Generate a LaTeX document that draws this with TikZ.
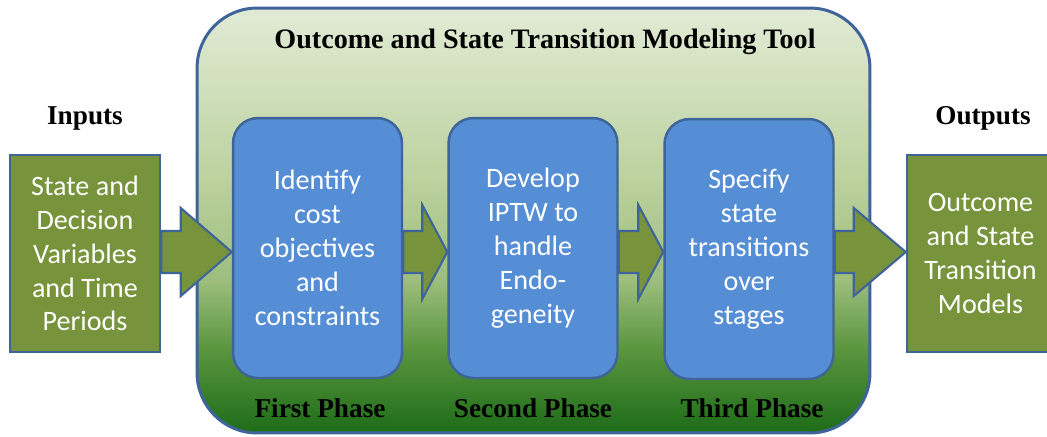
\documentclass[tikz,border=0pt]{standalone}
\usepackage{fontspec}
\setmainfont{Liberation Serif}
\newfontfamily\calibri{Carlito}
\usetikzlibrary{calc}

\definecolor{toolblue}{HTML}{3F6499}
\definecolor{phasefill}{HTML}{558ED5}
\definecolor{olivefill}{HTML}{77933C}
\definecolor{tooldark}{HTML}{1D6B18}
\definecolor{toolmid}{HTML}{5B963F}
\definecolor{toolsoft}{HTML}{9DBE7E}
\definecolor{toollight}{HTML}{BCD29F}
\definecolor{tooltop}{HTML}{E1EBD5}

\pgfdeclareverticalshading{toolfade}{100bp}{color(0bp)=(tooldark); color(25bp)=(tooldark);
  color(35bp)=(toolmid); color(43bp)=(toolsoft); color(55bp)=(toollight);
  color(75bp)=(tooltop); color(100bp)=(tooltop)}

\tikzset{
  toolbox/.style={draw=toolblue,line width=1.7pt,shading=toolfade,rounded corners=1.2cm,
    minimum width=13.46cm,minimum height=8.5cm,inner sep=0pt},
  phasebox/.style={draw=toolblue,line width=1.4pt,fill=phasefill,rounded corners=0.5cm,
    minimum width=3.38cm,minimum height=5.2cm,align=center,text=white,
    font=\calibri\fontsize{16}{19.3}\selectfont},
  iobox/.style={draw=toolblue,line width=1.4pt,fill=olivefill,minimum height=3.94cm,
    align=center,text=white,font=\calibri\fontsize{16}{19.3}\selectfont},
  heading/.style={font=\bfseries\fontsize{15.5}{18}\selectfont},
  blockarrow/.style={draw=toolblue,line width=1.2pt,fill=olivefill,line join=miter},
}

% block arrow: from node, to node, head length, head half height
\newcommand{\phasearrow}[4]{%
  \draw[blockarrow] ($(#1.east |- axis)+(0,-21)$) -- ($(#2.west |- axis)+(-#3,-21)$)
    -- ($(#2.west |- axis)+(-#3,-#4)$) -- (#2.west |- axis)
    -- ($(#2.west |- axis)+(-#3,#4)$) -- ($(#2.west |- axis)+(-#3,21)$)
    -- ($(#1.east |- axis)+(0,21)$) -- cycle;}

\begin{document}
\begin{tikzpicture}[x=0.02cm,y=-0.02cm]
  \useasboundingbox (0,0) rectangle (1047,436);

  % modeling tool frame
  \node[toolbox] (tool) at (533.5,220.5) {};
  \node[heading,font=\bfseries\fontsize{16}{19}\selectfont] (title) at (545,42)
    {Outcome and State Transition Modeling Tool};

  % inputs and outputs
  \node[heading] (inlabel) at (85,118) {Inputs};
  \node[heading] (outlabel) at (983,118) {Outputs};
  \node[iobox,minimum width=3cm] (inbox) at (85,253.5)
    {State and\\Decision\\Variables\\and Time\\Periods};
  \node[iobox,minimum width=2.94cm] (outbox) at (980.5,253.5)
    {Outcome\\and State\\Transition\\Models};

  % phases
  \node[phasebox] (first) at (317.5,248)
    {Identify\\cost\\objectives\\and\\constraints};
  \node[phasebox] (second) at (533,248)
    {Develop\\IPTW to\\handle\\Endo-\\geneity};
  \node[phasebox] (third) at (749,249)
    {Specify\\state\\transitions\\over\\stages};
  \node[heading] (firstlabel) at (320,408) {First Phase};
  \node[heading] (secondlabel) at (533,408) {Second Phase};
  \node[heading] (thirdlabel) at (752,408) {Third Phase};

  % arrows between the blocks
  \coordinate (axis) at (0,252);
  \phasearrow{inbox}{first}{51}{44}
  \phasearrow{first}{second}{25}{47}
  \phasearrow{second}{third}{25}{47}
  \phasearrow{third}{outbox}{52}{44}
\end{tikzpicture}
\end{document}
